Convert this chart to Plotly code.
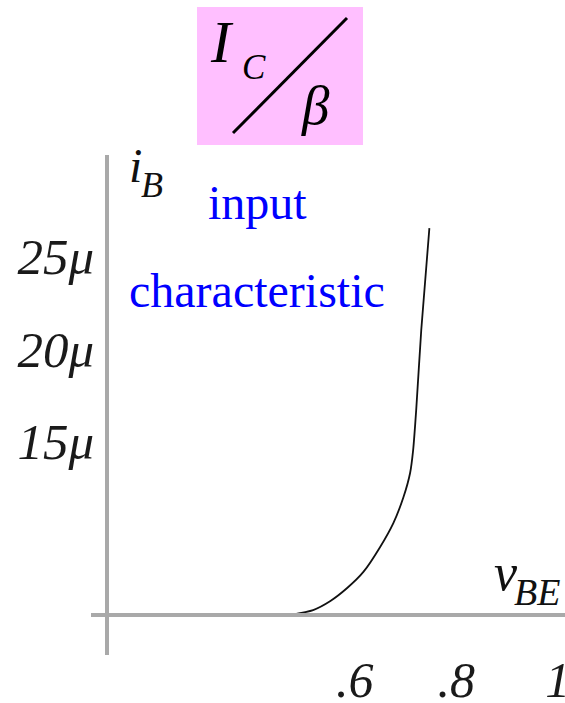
import plotly.graph_objects as go

W, H = 565, 703

# ---- data ----
vbe = [0.473, 0.518, 0.552, 0.585, 0.617, 0.650, 0.676, 0.696, 0.709, 0.715, 0.721, 0.731, 0.747]
ib = [5.62, 5.89, 6.38, 7.08, 7.95, 9.30, 10.59, 12.0, 13.30, 14.54, 16.70, 21.03, 26.54]

x_tick_vals = [0.6, 0.8, 1.0]
x_tick_text = [".6", ".8", "1"]
y_tick_vals = [25, 20, 15]
y_tick_text = ["25μ", "20μ", "15μ"]

X_RANGE = [0.0803, 1.0142]
Y_RANGE = [3.46, 30.49]
VBE_AXIS = 0.1118   # where the vertical (i_B) axis crosses
IB_AXIS = 5.62      # where the horizontal (v_BE) axis sits

SERIF = "Liberation Serif, Times New Roman, serif"
AX_GRAY = "#a9a9a9"

xdom = [91 / W, 1.0]
ydom = [48 / H, 548 / H]

def P(px, py):
    return px / W, 1 - py / H

yaxis_pos = xdom[0] + (VBE_AXIS - X_RANGE[0]) / (X_RANGE[1] - X_RANGE[0]) * (xdom[1] - xdom[0])
xaxis_pos = ydom[0] + (IB_AXIS - Y_RANGE[0]) / (Y_RANGE[1] - Y_RANGE[0]) * (ydom[1] - ydom[0])

fig = go.Figure()
fig.add_trace(go.Scatter(
    x=vbe, y=ib, mode="lines",
    line=dict(color="#111111", width=1.8, shape="spline", smoothing=0.6),
    hoverinfo="skip", showlegend=False,
))

fig.update_layout(
    width=W, height=H,
    margin=dict(l=0, r=0, t=0, b=0),
    paper_bgcolor="white", plot_bgcolor="rgba(0,0,0,0)",
    showlegend=False,
    xaxis=dict(
        domain=xdom, range=X_RANGE, anchor="free", position=xaxis_pos,
        showgrid=False, zeroline=False, showline=True, linecolor=AX_GRAY, linewidth=3.5,
        ticks="", tickmode="array", tickvals=x_tick_vals, ticktext=x_tick_text,
        tickfont=dict(family=SERIF, size=50, color="#1a1a1a", style="italic"),
        ticklabelstandoff=20, ticklabeloverflow="allow", automargin=False, fixedrange=True,
    ),
    yaxis=dict(
        domain=ydom, range=Y_RANGE, anchor="free", position=yaxis_pos,
        showgrid=False, zeroline=False, showline=True, linecolor=AX_GRAY, linewidth=3.5,
        ticks="", tickmode="array", tickvals=y_tick_vals, ticktext=y_tick_text,
        tickfont=dict(family=SERIF, size=51, color="#1a1a1a", style="italic"),
        ticklabelstandoff=1, ticklabeloverflow="allow", automargin=False, fixedrange=True,
    ),
)

shapes = []
x0, y0 = P(197, 7)
x1, y1 = P(363, 145)
shapes.append(dict(type="rect", xref="paper", yref="paper", x0=x0, y0=y1, x1=x1, y1=y0,
                   fillcolor="#ffbfff", line=dict(width=0), layer="below"))
sx0, sy0 = P(233, 133)
sx1, sy1 = P(347, 18)
shapes.append(dict(type="line", xref="paper", yref="paper", x0=sx0, y0=sy0, x1=sx1, y1=sy1,
                   line=dict(color="black", width=3)))
fig.update_layout(shapes=shapes)

def ann(text, px, py, size, color="#111111", italic=True, xanchor="center"):
    x, y = P(px, py)
    fig.add_annotation(
        text=text, x=x, y=y, xref="paper", yref="paper", showarrow=False,
        xanchor=xanchor, yanchor="middle",
        font=dict(family=SERIF, size=size, color=color, style="italic" if italic else "normal"),
    )

# title fraction
ann("I", 222, 42, 60, color="black")
ann("C", 254, 67, 35, color="black")
ann("β", 315, 106, 55, color="black")

# axis names
ann("i", 135, 165, 48)
ann("B", 152, 185, 36)
ann("v", 506, 572, 52)
ann("BE", 537, 592, 38)

# blue labels
ann("input", 257, 203, 48, color="#0000ff", italic=False)
ann("characteristic", 257, 290, 48, color="#0000ff", italic=False)

fig.write_html(
    "out.html",
    config={"displayModeBar": False},
    post_script="document.body.style.margin='0';document.body.style.overflow='hidden';",
)
